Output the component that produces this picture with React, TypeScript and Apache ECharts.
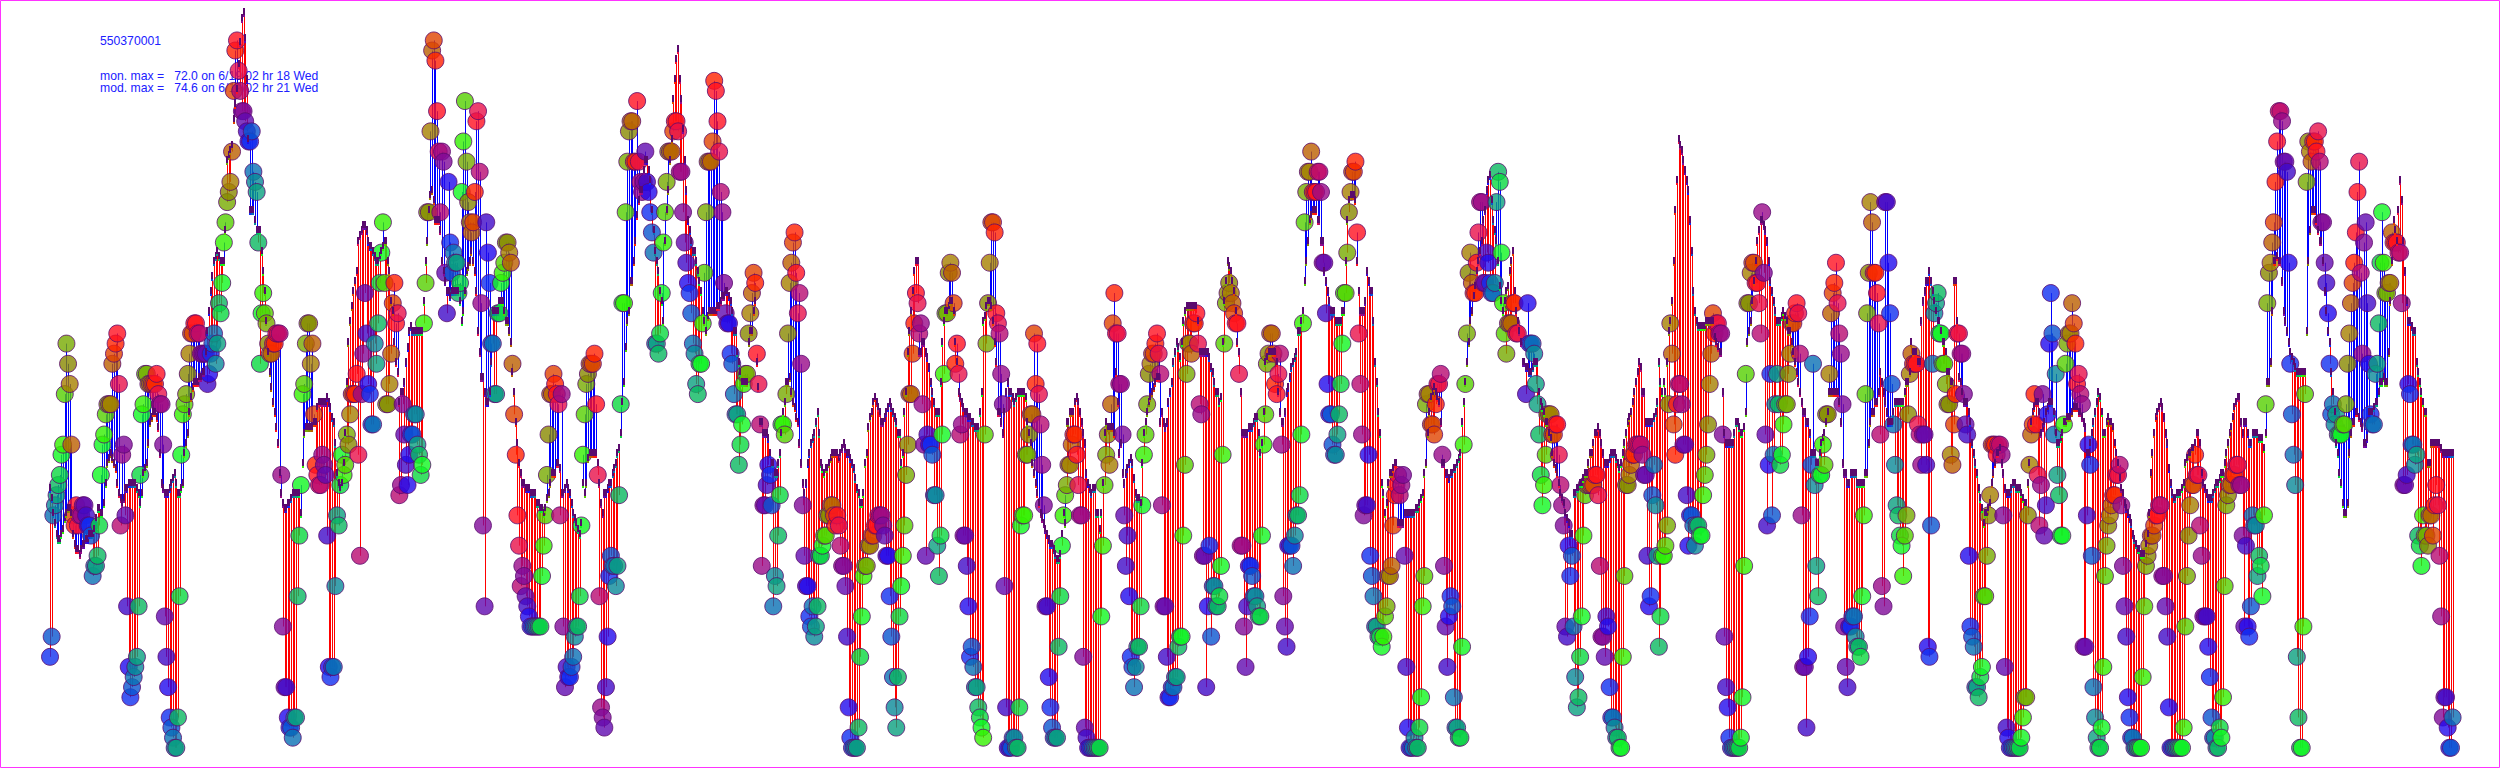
import { useEffect, useRef } from "react";
import * as echarts from "echarts";

const _ = null;

const titleLines = ["550370001", "mon. max =   72.0 on 6/19/02 hr 18 Wed", "mod. max =   74.6 on 6/19/02 hr 21 Wed"];

// hourly colour key, first entry is the hour of the first sample
const hourColors = [
  "#1030f0", "#0a55d0", "#0a70b4", "#0a8a98", "#0aa080", "#0ab860", "#0ad840", "#10f820",
  "#33f000", "#55d000", "#77aa00", "#888800", "#a68000", "#bb5f00", "#e04400", "#ff2200",
  "#ff1020", "#e8104a", "#b80a70", "#990a88", "#800a98", "#600ab0", "#400ac8", "#200aee",
];

const monitor = [
  11,13,25,26,27,28,29,31,32,37,42,40,38,32,25,24,26,24,25,25,26,26,25,24,
  24,23,19,20,20,21,24,29,32,33,35,36,36,36,40,41,42,43,38,24,31,32,25,16,
  10,7,8,9,10,11,16,29,35,36,39,39,38,38,38,38,38,39,37,36,36,32,15,11,
  8,5,4,3,2,2,5,17,31,35,36,37,39,41,43,43,44,44,43,43,41,41,41,41,
  38,39,41,42,43,40,42,46,45,48,52,54,56,57,58,61,67,71,72,69,67,65,65,64,
  63,62,62,63,59,58,57,52,40,45,47,45,44,42,41,41,42,42,43,43,43,29,14,8,
  8,5,4,4,3,5,5,17,23,28,37,38,42,44,44,40,42,35,30,29,28,28,31,30,
  29,23,10,9,10,10,18,25,24,28,31,29,30,33,32,35,37,37,37,39,31,21,37,41,
  47,43,38,37,34,34,42,40,44,48,51,54,48,36,36,38,41,46,48,44,45,27,28,36,
  33,30,28,31,33,33,35,35,32,31,29,30,44,48,55,55,63,71,72,70,65,61,55,61,
  60,49,45,58,52,49,51,50,50,47,48,57,62,66,60,56,54,53,54,57,64,65,59,46,
  24,16,54,51,48,42,42,37,37,45,45,48,49,50,52,52,51,50,40,35,31,25,22,18,
  20,19,17,16,15,14,14,14,14,14,14,14,19,22,25,29,33,37,37,39,38,37,36,25,
  37,14,8,10,9,9,10,11,13,14,14,17,24,31,35,38,39,40,40,40,41,36,29,17,
  6,5,4,8,13,19,21,20,20,18,20,27,36,46,46,55,60,63,64,64,60,60,66,60,
  58,57,58,61,58,57,55,53,51,42,42,41,43,47,52,55,58,61,61,61,63,64,64,63,
  59,59,55,52,50,48,47,45,42,41,38,37,40,40,44,49,55,60,60,60,62,68,67,64,
  61,57,55,48,45,44,44,41,40,37,35,35,30,32,34,38,39,39,43,45,47,49,48,41,
  38,34,20,26,26,28,30,29,26,16,19,18,23,27,34,34,33,37,43,48,50,52,53,49,
  45,47,40,26,21,18,18,15,14,16,13,14,16,21,21,22,23,23,25,25,26,26,25,24,
  25,24,22,20,20,18,13,6,3,2,2,2,2,4,11,15,19,20,20,22,22,23,23,24,
  24,25,25,25,24,23,21,21,17,13,9,6,4,9,15,18,21,24,29,32,37,37,41,44,
  47,46,43,44,36,32,21,33,32,32,31,27,27,22,19,23,33,39,45,45,49,50,49,46,
  40,42,39,33,34,23,23,20,16,11,12,10,8,8,6,5,4,3,33,42,46,50,54,54,
  53,45,44,43,39,36,18,6,2,2,2,3,3,2,2,6,24,25,25,31,31,33,35,35,
  43,38,42,37,34,30,26,16,16,9,6,4,3,3,3,12,17,22,25,27,28,30,30,32,
  33,33,31,28,25,25,11,4,3,2,2,2,2,2,2,2,2,15,22,28,31,33,30,36,
  44,47,43,43,38,38,33,25,20,23,17,11,10,8,10,12,12,16,26,31,33,36,39,40,
  41,41,42,43,41,39,26,16,16,11,7,7,8,8,9,9,12,13,13,23,30,39,42,42,
  41,44,44,45,42,36,35,21,21,8,16,22,13,18,18,16,16,17,20,31,42,46,47,48,
  47,46,45,44,44,39,22,22,14,10,16,20,20,19,17,17,16,15,15,23,32,35,40,41,
  43,43,41,38,37,39,41,32,17,14,12,22,22,22,20,23,25,25,27,33,44,54,57,59,
  59,61,57,57,57,59,59,57,50,50,45,38,35,35,32,31,31,33,35,38,42,47,47,51,
  55,57,59,59,60,53,43,38,33,25,26,26,31,21,19,17,14,14,13,13,12,13,15,16,
  19,19,20,24,27,28,29,27,28,29,21,10,4,2,2,2,3,2,2,4,7,16,19,36,
  37,37,34,34,33,36,38,38,39,31,20,14,10,15,17,16,7,4,4,3,3,12,32,38,
  43,49,51,48,47,47,50,53,56,56,48,48,51,50,48,47,47,48,56,59,58,51,46,43,
  41,44,44,44,46,46,43,43,_,_,_,_,37,46,42,42,42,41,38,36,33,29,26,28,
  31,35,35,35,33,33,34,34,31,28,26,24,14,13,22,19,21,14,9,6,7,11,15,23,
  27,28,28,28,28,28,29,29,27,20,13,13,11,15,14,8,5,5,4,3,3,2,2,11,
  19,28,28,29,30,31,31,32,32,32,32,31,29,29,21,16,17,27,30,26,21,12,15,21,
  21,22,24,36,44,41,34,31,36,38,38,36,32,32,27,22,25,25,24,22,24,24,23,23,
  27,29,31,34,38,41,45,43,44,44,43,43,33,13,8,6,3,2,2,2,2,2,2,3,
  7,20,39,46,46,49,50,50,48,48,46,43,55,49,33,24,30,39,25,31,36,39,36,30,
  31,34,36,36,39,41,44,44,45,46,45,41,25,10,10,4,11,15,30,40,28,20,17,29,
  29,32,30,35,35,39,45,47,48,50,46,43,41,36,14,10,8,14,14,15,15,13,12,12,
  11,17,25,37,45,49,56,54,49,49,47,44,33,18,16,56,56,50,45,38,34,30,26,25,
  23,22,19,23,25,35,39,41,40,40,40,34,33,30,33,33,30,12,11,24,40,45,46,47,
  43,43,40,40,38,36,36,31,30,34,37,43,43,41,41,37,34,33,21,14,13,12,8,8,
  7,9,10,17,17,21,25,27,32,32,32,31,32,32,31,25,10,4,3,2,2,2,2,2,
  2,2,3,5,7,7,25,30,33,34,37,34,29,24,28,37,23,26,35,42,47,43,33,39,
  29,27,23,23,34,40,42,43,43,46,44,42,38,39,37,36,12,12,25,32,30,21,8,5,
  3,2,2,4,10,19,22,24,25,26,27,27,29,29,30,26,20,16,13,7,5,3,3,2,
  2,2,2,2,9,16,20,21,22,23,23,24,25,25,26,26,19,19,16,13,6,2,2,2,
  2,2,2,2,2,4,14,19,23,26,28,28,31,29,29,24,21,15,15,15,12,9,5,3,
  3,2,2,4,3,7,18,26,27,28,28,29,29,30,30,28,28,23,14,22,14,13,16,25,
  24,24,19,21,20,17,25,36,46,49,50,52,54,58,62,65,65,64,60,60,59,50,40,35,
  31,28,11,5,2,2,14,37,58,62,61,60,62,62,61,63,60,54,54,50,48,45,40,35,
  36,34,35,33,33,33,34,34,36,40,43,46,48,50,53,57,60,49,41,52,54,46,40,35,
  34,34,39,40,44,50,55,50,47,47,48,48,53,52,52,52,51,51,46,28,28,29,38,37,
  32,32,30,31,23,22,20,25,23,23,22,25,25,23,26,28,26,21,15,5,7,7,4,2,
  2,5,
];

const model = [
  27.5,26.5,25,24,23,22.5,22.5,23,23.5,24.5,25,25.5,25.5,25,23,22,21.5,21.5,21,21.5,22,22,22.5,22.5,
  23,23,23,23.5,24.5,25.5,25.5,25,25,26,28,30,30.5,31,30.5,30,29.5,28,27,26.5,26,26.5,27.5,27.5,
  28,28,28,28,28,27.5,27,26,27,29,29.5,30,32,34,34.5,35,35,34.5,33.5,31,28,27.5,27,27,
  27,27.5,28,28.5,29,28,27,27,27.5,28,31,32,33,35,36.5,37.5,38,38,38,38.5,38.5,39,39,41,
  43,45,47,48.5,50,50.5,51,50.5,50,50,50,53,60,60.5,61,61.5,64,65.5,67,69.5,71.6,74,74.6,72,
  68,62,55,55,55,54,53,53,53,51,49,47,44,41,39,37.5,36,35,33.5,32,29,27,26,25.5,
  25.5,26,26,26.5,27,27,27,27,27,25,30,33,33.5,33.5,33.5,33.5,33.5,34,34,35.5,36,36,36,36,
  36,36.5,36,35.5,34.5,34,32,29,28,27.5,28,30,33,38,42,44,45.5,47,48,49,52,52.5,53,53.5,
  53.5,53,52,51.5,51.5,51,50.5,50,50,50.5,51,51.5,52,52,50,49,46,45,42,40,39,36,37,37,
  38,40,41.5,43,43.5,43,43,43,43,43,43,43,46,50,52,55,56.5,57,56,54,54,54,53,50,
  49,48,47,47,46.5,47,47,47,47,47,46,44,45,47,49,49.5,50,51,50,49,47,43,41,38.5,
  38.5,37,36,36,37,40,45,45,45,45,46,46,46,45,44,44,43,42,39,37,34,32,30,29,
  28,28,27.5,27.5,27.5,27,27,27,27,26,26,25.5,25.5,25,25.5,26.5,27,28,29,29,29,30,30,29.5,
  27,27,27.5,28,27.5,27,26,25,24.5,24,23.5,23,24,28,27,28,30.5,31,31,31,31,31,30,28,
  26,25,27,27,27.5,28,28,29,29.5,30,31,31.5,33,36,38,41.5,44,45,48,48,50,52,54.5,56,
  57,57,59,60,60,59,58,55,53,51,50,49,47,46,44,52,55,57,60,62,66,68,70,71,
  68,66,63,60,57,54,53,52,51,51,50,49,48,47,45,44,43,44.5,45,45,45,45,45,45.5,
  45.5,46,46.5,46.5,47,47,46.5,46,45,43,43,41,40,39,38,38,38,38,42,43,43,45,46,40,
  37.5,34,34,33,33,33,32.5,31,30,30,29,29,30,31,33,35,36,38,38,38.5,37,36,35.5,34.5,
  34,32,30,28,27,28,30,31,32,32.5,33,34,35,33,30,29.5,29,29.5,29.5,30,30.5,31,31,31,
  31,30.5,31,31.5,32,31.5,31,31,30.5,30,29.5,28.5,27.5,27,26,26,27,30,31,33.5,34.5,35,36,36.5,
  36,35.5,35,34,34,34.5,35,35.5,36,35.5,35,34.5,34,33,33,30,31,35,37,41,43,45,47,49,
  50,50,41,41,42,42,41,40.5,39.5,38,37,36,35,35,35,38,42,44,45,45,45.5,46,46,45,
  42,40,37,36.5,36,35.5,35,35,34.5,34.5,34,34,33.5,33.5,33.5,35,37,44,44.5,45.5,46,46,45.5,44,
  42,40,35,35,34,33,35,37,38,37,37,36.5,36,36.5,37,37,37,37,37,36.5,34,33,32,30,
  29,28,27,26,25,24.5,24,23.5,23,22.5,22,22,21.5,21,20.5,20.5,21,23,25,24,34,34,35,35,
  35,36,36.5,36,35,34,33,32,29,28,27.5,27,27.5,27.5,25,25,23.5,25,28,33,34,33.5,33.5,33.5,
  33.5,33,39,36,31,32,29,28,29,29.5,30,30.5,30,28.5,27,26.5,26.5,26,30,33,34,35,36,36.5,
  37,37.5,38,38.5,38.5,34,35,34,33.5,34,36,37,38,40,41,42,41.5,40.5,42,44,45,45.5,45.5,45.5,
  45.5,45.5,45.5,45.5,44,41,41,41,41,41,41,40.5,39.5,39,38,37,37,36,36.5,42,46,48,50,49.5,
  49,48,47,45,42,41,37,33,33,33,33,33.5,33.5,33.5,34,34.5,34.5,33,31,32,35,40,40.5,41,
  41,41,41,41,40,37,35,34,34,35,37,37.5,38.5,39.5,40,40.5,41,43,43,44,45,48,50,52,
  54,54.5,55,55,55,54,54,52,52,49,48,47,46,45,45,45,44,44,44,44,45,45,50,54,
  56,56.5,56.5,56.5,56,50,47,45,45,45,46,49,48,47,47,44,40,38,35,33,28,27,25,26,
  28,29,29,29.5,30,30,24,24,24,24,25,25,25,25,25,25,25,25.5,25.5,26,26.5,27,29,30,
  33,35,36.5,37,37.5,37,36.5,36,34,30,30,29,29,28.5,29,29,29.5,29.5,30,30.5,31,34,36,38,
  40,42,44,45,46.5,47.5,49,50,51,52,54,55,57,58,58.5,56,54,53,52,50,47.5,46,45,46,
  47,47.5,49,50,51,47,45,44,43,42,40,40,39.5,39.5,39,39,39.5,40,40,40,37,36,35.5,35,
  34,34,33,32.5,31,30,29.5,29,28,27,26.5,26,25,24.5,24,23,23,27,27,27.5,27.5,28,28,28.5,
  29,29,30,31,31,32,33,33,33.5,33,32,31,30,30,30,30.5,31,31,31,30.5,30,29.5,30,31,
  32,33,34,34.5,35,36,37,38,39,40,39.5,37,37,34,34,34,34,34,34.5,35,36,40,38,37,
  38,37,40,43,44,46,50,55,58,62,61.5,61,60,59,58,57,54,51,47,45,44,43.5,43.5,43.5,
  43.5,43.5,44,44,44,44,44,42.5,42,41.5,41,41,37,33,32,32,32,32,32,33,34,34,33.5,33,
  33,33.5,35,42,43,44,46,48,50,52,53,54,54,53.5,53,52,50,48,47,46,45,44,44,44,
  44.5,45,44.5,44,43,43,42,41,40,39,38,37,36,35,35,34,34,33,31,31,31,30,30,31,
  32,32.5,33,34,35,37,37,37,37,37,37,36,34,30,29,29,28,28,29,29,29,29,28,28,
  28,28,28,29,29,32,34,35,35,36,36,37,39,38,37,36,35,34,34,34,35,36,36,36,
  36,36,36,37,38,38,39,42,41,41,41,40,40,44,46,47,48,48,49,48,47,46,45,44,
  44,43,42,42,41,39,39,38,38,48,48,44,38.5,38,37,36,36,36,35,34,32,31,30,29,
  27.5,26.5,25.5,24,25,25,25.5,26,28,29,30,31,31,31.5,30,29,27.5,27,27,27,27.5,28,28,27.5,
  27.5,27.5,27,26.5,26,26,28,30,34,35,35.5,36,36,35,33,33.5,34,35,35.5,36,36,36,35,33,
  32,32,32.5,33,34,34,34.5,34.5,34.5,35,35.5,35.5,35.5,35,35,34.5,34,33.5,31,31,32,33,34,35,
  36,37,36.5,35,33,33,34,34.5,34,34,33.5,32,31,30,28.5,27.5,27,26,25.5,25,24.5,24,23,22.5,
  22,21.5,21.5,21,21,21,22,23,25,29,31,33,34.5,35,35.5,36,35.5,34.5,33,32,29.5,28,27,26.5,
  26.5,27,27,27,27.5,28,30,30.5,31,31,31.5,31.5,32,33,33,32,29,28,27.5,27,26.5,26.5,26.5,27,
  27.5,28,28,28.5,29,29,30,31,32,33,33.5,34.5,35.5,36,36.5,36.5,34,33,34,34,33,32,32,33,
  33,33,33,32.5,32.5,32.5,31.5,33,38,38,40,45,50,50,50.5,50,50,48,45,44,43,42,41,40.5,
  40,39.5,39,39,39,39,39,39,43,50,53,55,55,55,54,53,52,52,50,47,45,43,42,39,
  37,35,32,31,29,28,26,25,25,26,31,33,34,34,35,35,34.5,34,33.5,32,32,32.5,35,35,
  35,35.5,36,36,37,38,38,38.5,38,38,41,46,50,54,53,52,55,58,56,52,49,46,44,44,
  43.5,43,43,40,39,38,37,36,35,35,30,30,32,32,32,32,32,32,31.5,31,31,31,31,31,
  31,31,
];

const STROKE = "#5a0a6e";

export default function App() {
  const ref = useRef<HTMLDivElement>(null);
  useEffect(() => {
    document.body.style.margin = "0";
    const chart = echarts.init(ref.current!, null, { renderer: "svg" });
    const count = Math.min(monitor.length, model.length);
    const rows: any[] = [];
    for (let i = 0; i < count; i++) {
      if (monitor[i] !== null) rows.push([i, monitor[i], model[i]]);
    }
    const hourColor = (i: number) => hourColors[Math.round(i * 0.984) % 24];
    const font = "12.2px 'Liberation Sans'";
    chart.setOption({
      animation: false,
      grid: { left: 0, right: 0, top: 0, bottom: 0 },
      xAxis: { type: "value", min: -30.5, max: 1493.9, show: false },
      yAxis: { type: "value", min: 0, max: 76, show: false },
      graphic: {
        z: 0,
        elements: [
          { type: "rect", silent: true, shape: { x: 0.5, y: 0.5, width: 2499, height: 767 }, style: { fill: "none", stroke: "#ff33ff", lineWidth: 1 } },
          { type: "text", x: 100, y: 35, style: { text: titleLines[0], fill: "#2020ff", font } },
          { type: "text", x: 100, y: 70, style: { text: titleLines[1], fill: "#2020ff", font } },
          { type: "text", x: 100, y: 82, style: { text: titleLines[2], fill: "#2020ff", font } },
        ],
      },
      series: [
        {
          type: "custom",
          z: 2,
          silent: true,
          encode: { x: 0, y: [1, 2] },
          data: rows,
          renderItem: (_p: any, api: any) => {
            const a = api.coord([api.value(0), api.value(1)]);
            const b = api.coord([api.value(0), api.value(2)]);
            const x = Math.round(a[0]) + 0.5;
            return {
              type: "line",
              shape: { x1: x, y1: a[1], x2: x, y2: b[1] },
              style: { stroke: api.value(1) < api.value(2) ? "#ff0000" : "#0000ff", lineWidth: 1 },
            };
          },
        },
        {
          type: "scatter",
          z: 3,
          silent: true,
          symbol: "circle",
          symbolSize: 17,
          data: rows.map((r) => ({
            value: [r[0], r[1]],
            itemStyle: { color: hourColor(r[0]), borderColor: STROKE, borderWidth: 1 },
          })),
        },
        {
          type: "custom",
          z: 4,
          silent: true,
          encode: { x: 0, y: 1 },
          data: model.slice(0, count).map((v, i) => [i, v]),
          renderItem: (_p: any, api: any) => {
            const i = api.value(0);
            const p = api.coord([i, api.value(1)]);
            const x = Math.round(p[0]);
            const y = Math.round(p[1]);
            return {
              type: "group",
              children: [
                { type: "rect", shape: { x: x - 1, y: y, width: 2, height: 3 }, style: { fill: hourColor(i) } },
                { type: "rect", shape: { x: x - 1, y: y - 6, width: 2, height: 7 }, style: { fill: STROKE } },
              ],
            };
          },
        },
      ],
    });
    return () => chart.dispose();
  }, []);
  return <div ref={ref} style={{ width: 2500, height: 768 }} />;
}
